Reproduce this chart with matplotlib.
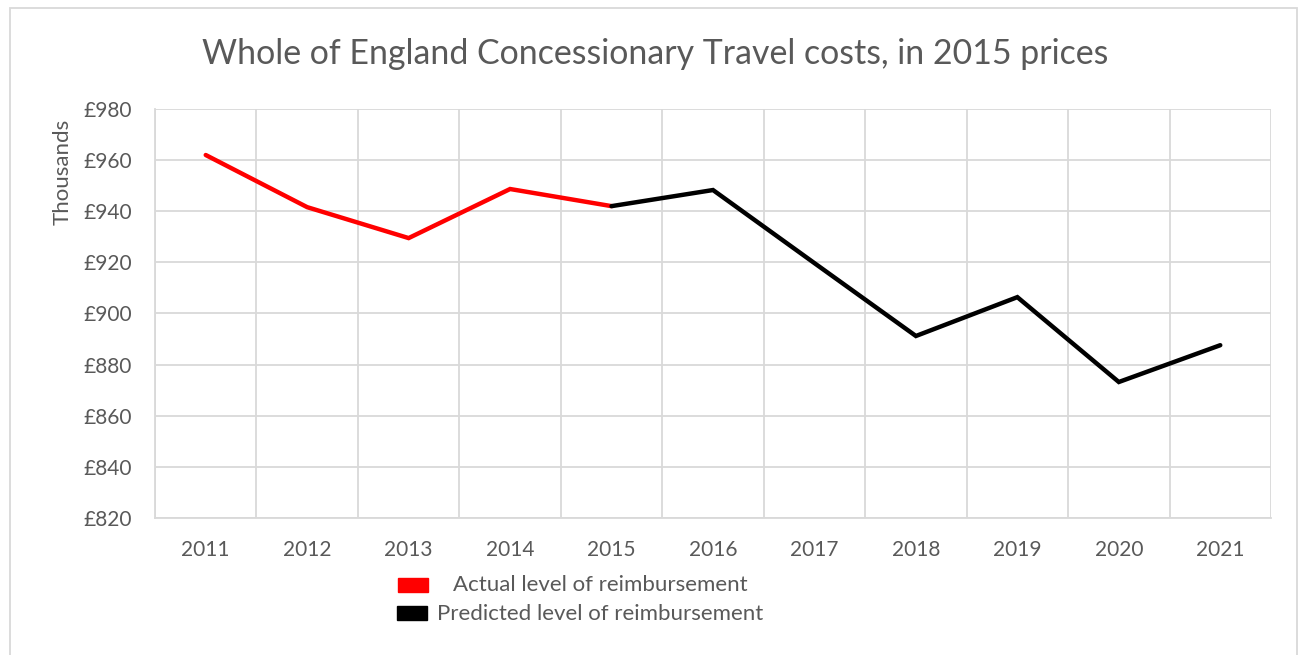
import matplotlib
matplotlib.use("Agg")
import matplotlib.pyplot as plt
from matplotlib.patches import Rectangle

plt.rcParams['font.family'] = ['Lato', 'DejaVu Sans']

years = ["2011", "2012", "2013", "2014", "2015", "2016", "2017", "2018", "2019", "2020", "2021"]
actual = [962.0, 941.6, 929.5, 948.7, 942.0]
predicted = [942.0, 948.3, 919.7, 891.2, 906.4, 873.2, 887.6]
y_ticks = [820, 840, 860, 880, 900, 920, 940, 960, 980]

title = "Whole of England Concessionary Travel costs, in 2015 prices"
actual_label = "Actual level of reimbursement"
predicted_label = "Predicted level of reimbursement"

text_grey = "#595959"
grid_grey = "#d9d9d9"

fig = plt.figure(figsize=(13.04, 6.55), dpi=100)
W, H = 1304, 655

# outer chart frame
fig.patches.append(Rectangle((10 / W, -0.01), 1287 / W, (655 - 8) / H + 0.01,
                             transform=fig.transFigure, fill=False,
                             edgecolor=grid_grey, linewidth=1.3))

ax = fig.add_axes([155 / W, 1 - 518 / H, (1271 - 155) / W, (518 - 109) / H])

n = len(years)
x_actual = list(range(len(actual)))
x_pred = list(range(len(actual) - 1, n))

ax.plot(x_actual, actual, color="#ff0000", lw=3.2, solid_capstyle="round",
        solid_joinstyle="miter", zorder=3)
ax.plot(x_pred, predicted, color="#000000", lw=3.2, solid_capstyle="round",
        solid_joinstyle="miter", zorder=3)

ax.set_xlim(-0.5, n - 0.5)
ax.set_ylim(y_ticks[0], y_ticks[-1])
ax.set_yticks(y_ticks)
ax.set_yticklabels([f"£{v}" for v in y_ticks])
ax.set_xticks(range(n))
ax.set_xticklabels(years)
ax.set_xticks([i - 0.5 for i in range(n + 1)], minor=True)

ax.grid(True, which="major", axis="y", color=grid_grey, lw=1.3)
ax.grid(True, which="minor", axis="x", color=grid_grey, lw=1.3)
ax.set_axisbelow(True)
ax.tick_params(axis="both", which="both", length=0, colors=text_grey, labelsize=15)
ax.tick_params(axis="y", pad=16.5)
ax.tick_params(axis="x", pad=16)
for side in ("top", "right"):
    ax.spines[side].set_visible(False)
for side in ("left", "bottom"):
    ax.spines[side].set_color(grid_grey)
    ax.spines[side].set_linewidth(1.3)

ax.set_ylabel("Thousands", color=text_grey, fontsize=16)
ax.yaxis.set_label_coords((73 - 155) / (1271 - 155), (518 - 172) / (518 - 109))

fig.text(655 / W, 1 - 54 / H, title, ha="center", va="center",
         color=text_grey, fontsize=24.4)

# legend
fig.patches.append(Rectangle((398 / W, 1 - 592 / H), 30 / W, 14 / H,
                             transform=fig.transFigure, color="#ff0000"))
fig.patches.append(Rectangle((397 / W, 1 - 620 / H), 30 / W, 14 / H,
                             transform=fig.transFigure, color="#000000"))
fig.text(453 / W, 1 - 585 / H, actual_label, ha="left", va="center",
         color=text_grey, fontsize=16)
fig.text(437 / W, 1 - 614 / H, predicted_label, ha="left", va="center",
         color=text_grey, fontsize=16)

fig.savefig("out.png", dpi=100)
